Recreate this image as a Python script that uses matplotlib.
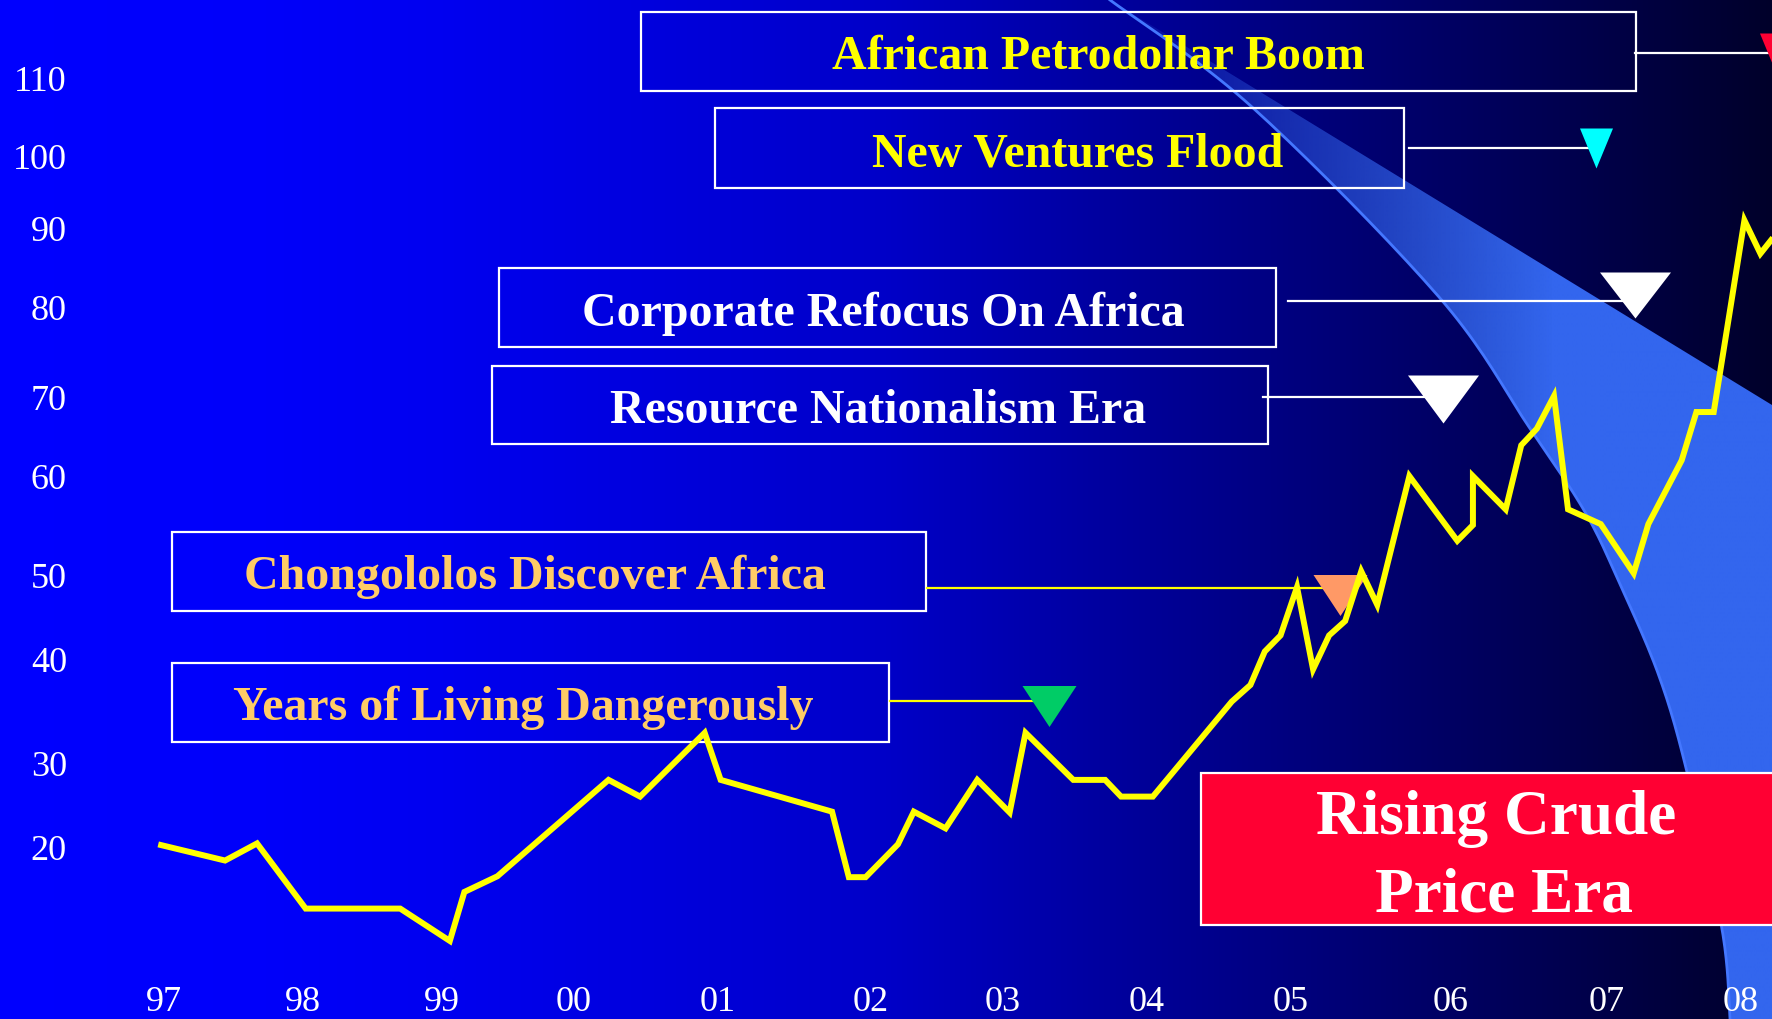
import numpy as np
import matplotlib
matplotlib.use('Agg')
import matplotlib.pyplot as plt
from matplotlib.patches import Rectangle, Polygon
from matplotlib.path import Path

W, H, DPI = 1772, 1019, 100
SERIF = ['Liberation Serif', 'DejaVu Serif']

# crude price (USD/bbl)
years = [1996.98, 1997.44, 1997.67, 1998.02, 1998.70, 1999.06, 1999.17, 1999.42,
         2000.24, 2000.46, 2000.91, 2001.02, 2001.75, 2001.86, 2001.97, 2002.21,
         2002.33, 2002.57, 2002.81, 2003.05, 2003.16, 2003.49, 2003.71, 2003.82,
         2004.04, 2004.59, 2004.72, 2004.82, 2004.93, 2005.04, 2005.14, 2005.24,
         2005.34, 2005.44, 2005.54, 2005.74, 2006.04, 2006.14, 2006.14, 2006.35,
         2006.45, 2006.55, 2006.66, 2006.75, 2006.96, 2007.20, 2007.31, 2007.56,
         2007.67, 2007.80, 2008.03, 2008.15, 2008.23]
price = [20.3, 18.6, 20.5, 13.4, 13.4, 9.9, 15.2, 16.9,
         28.1, 26.1, 33.0, 28.1, 24.3, 16.8, 16.8, 20.4,
         24.3, 22.3, 28.1, 24.2, 33.0, 28.1, 28.1, 26.1,
         26.1, 36.0, 37.6, 41.0, 42.9, 48.6, 39.1, 42.9,
         44.6, 50.4, 46.5, 60.1, 53.5, 55.1, 60.1, 56.7,
         64.0, 66.1, 70.2, 56.7, 55.2, 50.2, 55.2, 62.1,
         68.2, 68.2, 91.1, 86.8, 88.5]

year_ticks = list(range(1997, 2009))
year_labels = ['97', '98', '99', '00', '01', '02', '03', '04', '05', '06', '07', '08']
price_ticks = [20, 30, 40, 50, 60, 70, 80, 90, 100, 110]

# events: marker year / level and where the leader line starts
event_labels = ['African Petrodollar Boom', 'New Ventures Flood',
                'Corporate Refocus On Africa', 'Resource Nationalism Era',
                'Chongololos Discover Africa', 'Years of Living Dangerously']
event_year = [2008.27, 2006.93, 2007.21, 2005.95, 2005.31, 2003.32]
event_level = [113.2, 101.0, 81.6, 69.8, 47.7, 35.6]
leader_start = [2007.21, 2005.74, 2004.98, 2004.81, 2002.43, 2002.15]
leader_level = [113.2, 101.0, 80.8, 70.1, 48.5, 36.1]

# styles per event
marker_col = ['#FF0033', '#00FFFF', 'white', 'white', '#FF9966', '#00CC66']
marker_wh = [(33, 40), (33, 40), (71, 46), (71, 48), (54, 41), (54, 41)]
leader_col = ['white', 'white', 'white', 'white', '#FFFF00', '#FFFF00']
text_col = ['#FFFF00', '#FFFF00', 'white', 'white', '#FFCC66', '#FFCC66']
# box (x0, y0, x1, y1) and text centre/baseline, figure pixels (y down)
boxes = [(641, 12, 1636, 91), (715, 108, 1404, 188), (499, 268, 1276, 347),
         (492, 366, 1268, 444), (172, 532, 926, 611), (172, 663, 889, 742)]
text_xy = [(1098, 69), (1078, 166), (883, 326), (878, 423), (535, 589), (523, 720)]

# irregular axis spacing of the original slide (tick positions in pixels)
X_ANCHOR_YR = np.array([1995, 1996, 1997, 1998, 1999, 2000, 2001, 2002, 2003,
                        2004, 2005, 2006, 2007, 2008, 2009, 2010], float)
X_ANCHOR_PX = np.array([-114.1, 24.9, 163.9, 302.9, 441.9, 574.1, 717.6, 870.2,
                        1002.4, 1147.1, 1290.6, 1451.1, 1607.0, 1740.4, 1873.8, 2007.2])
Y_ANCHOR_VAL = np.array([0, 10, 20, 30, 40, 50, 60, 70, 80, 90, 100, 110, 120, 130], float)
Y_ANCHOR_PX = np.array([1032.4, 940, 847.6, 764, 660, 575.2, 476.9, 397.8, 307.4,
                        228.3, 156, 78, 0, -78])


def fwd_x(v):
    return np.interp(np.asarray(v, float), X_ANCHOR_YR, X_ANCHOR_PX)


def inv_x(p):
    return np.interp(np.asarray(p, float), X_ANCHOR_PX, X_ANCHOR_YR)


def fwd_y(v):
    return -np.interp(np.asarray(v, float), Y_ANCHOR_VAL, Y_ANCHOR_PX)


def inv_y(t):
    return np.interp(-np.asarray(t, float), Y_ANCHOR_PX[::-1], Y_ANCHOR_VAL[::-1])


def smooth(pts, n=20):
    # catmull-rom through the given points
    p = np.asarray(pts, float)
    p = np.vstack([p[0], p, p[-1]])
    out = []
    t = np.linspace(0, 1, n, endpoint=False)[:, None]
    for i in range(1, len(p) - 2):
        p0, p1, p2, p3 = p[i - 1], p[i], p[i + 1], p[i + 2]
        out.append(0.5 * (2 * p1 + (-p0 + p2) * t + (2 * p0 - 5 * p1 + 4 * p2 - p3) * t ** 2
                          + (-p0 + 3 * p1 - 3 * p2 + p3) * t ** 3))
    out.append(p[-2][None, :])
    return np.vstack(out)


fig = plt.figure(figsize=(W / DPI, H / DPI), dpi=DPI)

# background gradient + light beam
bg = fig.add_axes([0, 0, 1, 1], zorder=0)
stops = [0, 0.15, 0.25, 0.5, 0.62, 0.75, 0.88, 1.0]
blues = [255, 250, 240, 200, 160, 120, 80, 42]
grad = np.zeros((1, W, 3))
grad[..., 2] = np.interp(np.linspace(0, 1, W), stops, blues) / 255
bg.imshow(grad, extent=(0, W, H, 0), aspect='auto', interpolation='bilinear')

curve = smooth([(1110, 0), (1252, 107), (1439, 297), (1529, 427), (1585, 512),
                (1619, 582), (1659, 676), (1687, 772), (1722, 929), (1730, 1019)])
beam = Polygon(np.vstack([[(1110, 0), (W, 405), (W, H)], curve[::-1]]), closed=True,
               facecolor='none', edgecolor='none')
bg.add_patch(beam)
bx = np.linspace(1110, W, 300)
rgba = np.zeros((2, bx.size, 4))
rgba[..., 0], rgba[..., 1], rgba[..., 2] = 0x33 / 255, 0x66 / 255, 0xEE / 255
rgba[..., 3] = np.clip(0.08 + (bx - 1110) / 480, 0, 1)
im = bg.imshow(rgba, extent=(1110, W, H, 0), aspect='auto', interpolation='bilinear')
im.set_clip_path(beam)
bg.plot(curve[:, 0], curve[:, 1], color='#4477FF', lw=2)
bg.set_xlim(0, W)
bg.set_ylim(H, 0)
bg.axis('off')

# annotation boxes
ov = fig.add_axes([0, 0, 1, 1], zorder=1)
ov.set_facecolor('none')
for (x0, y0, x1, y1), lab, col, (tx, ty) in zip(boxes, event_labels, text_col, text_xy):
    ov.add_patch(Rectangle((x0, y0), x1 - x0, y1 - y0, fill=False, ec='white', lw=1.6))
    ov.text(tx, ty, lab, color=col, fontsize=34.5, fontweight='bold', family=SERIF,
            ha='center', va='baseline')
ov.add_patch(Rectangle((1201, 773), 600, 152, fc='#FF0033', ec='white', lw=1.6))
ov.text(1496, 834, 'Rising Crude', color='white', fontsize=45.5, fontweight='bold',
        family=SERIF, ha='center', va='baseline')
ov.text(1504, 911, 'Price Era', color='white', fontsize=45.5, fontweight='bold',
        family=SERIF, ha='center', va='baseline')
ov.set_xlim(0, W)
ov.set_ylim(H, 0)
ov.axis('off')

# price chart
ax = fig.add_axes([0, 0, 1, 1], zorder=2)
ax.set_facecolor('none')
ax.set_xscale('function', functions=(fwd_x, inv_x))
ax.set_yscale('function', functions=(fwd_y, inv_y))
ax.set_xlim(float(inv_x(0)), float(inv_x(W)))
ax.set_ylim(float(inv_y(-H)), float(inv_y(0)))

for x0, x1, lvl, col in zip(leader_start, event_year, leader_level, leader_col):
    ax.plot([x0, x1], [lvl, lvl], color=col, lw=1.6, zorder=2)

for yr, lvl, col, (w, h) in zip(event_year, event_level, marker_col, marker_wh):
    m = max(w, h)
    hw, hh = w / m, h / m
    tri = Path([(-hw, hh), (hw, hh), (0, -hh), (-hw, hh)], closed=True)
    ax.plot([yr], [lvl], ls='none', marker=tri, ms=m * 72 / DPI, color=col,
            mew=0, zorder=3)

ax.plot(years, price, color='#FFFF00', lw=4.3, solid_joinstyle='miter', zorder=4)

ax.set_xticks(year_ticks)
ax.set_xticklabels(year_labels)
ax.set_yticks(price_ticks)
ax.set_yticklabels([str(v) for v in price_ticks])
ax.minorticks_off()
ax.tick_params(axis='y', length=0, pad=-48.2, labelsize=26, labelcolor='white')
ax.tick_params(axis='x', length=0, pad=-23.6, labelsize=26, labelcolor='white')
for lab in ax.get_xticklabels() + ax.get_yticklabels():
    lab.set_family(SERIF)
for s in ax.spines.values():
    s.set_visible(False)

fig.savefig('out.png', dpi=DPI)
